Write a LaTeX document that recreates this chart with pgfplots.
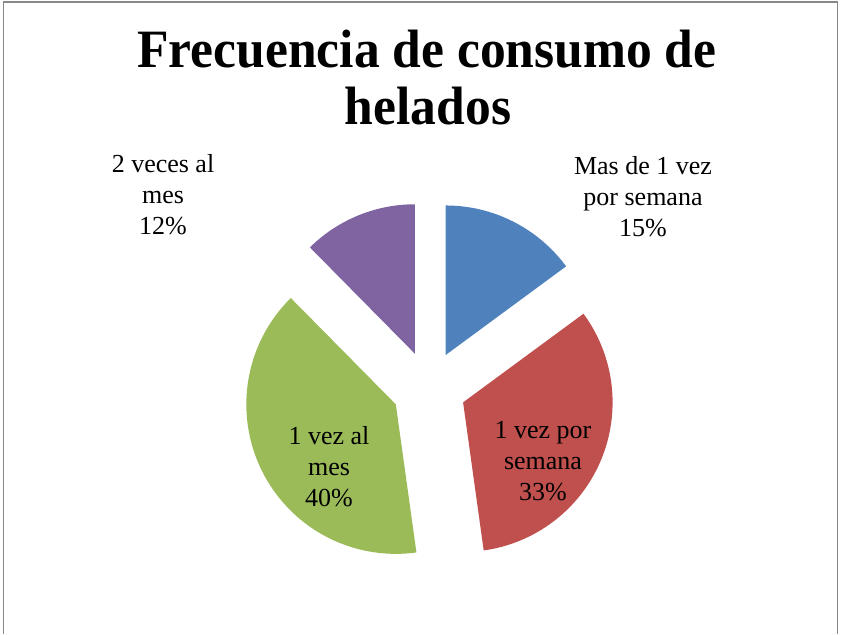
\documentclass[border=0pt]{standalone}
\usepackage{pgfplots}
\usepackage{pgfplotstable}
\pgfplotsset{compat=1.18}
\usepackage{fontspec}
\setmainfont{Liberation Serif}
\definecolor{cA}{HTML}{4F81BD}
\definecolor{cB}{HTML}{C0504D}
\definecolor{cC}{HTML}{9BBB59}
\definecolor{cD}{HTML}{8064A2}
\definecolor{frame}{HTML}{888888}
\pgfplotstableread{
idx value
0 14.9
1 32.9
2 39.8
3 12.4
}\piedata
\newcommand\pct[1]{\pgfmathprintnumber[fixed,precision=0,assume math mode=true]{#1}\%}
\begin{document}
\begin{tikzpicture}
\pgfplotstablegetelem{0}{value}\of\piedata \let\vA\pgfplotsretval
\pgfplotstablegetelem{1}{value}\of\piedata \let\vB\pgfplotsretval
\pgfplotstablegetelem{2}{value}\of\piedata \let\vC\pgfplotsretval
\pgfplotstablegetelem{3}{value}\of\piedata \let\vD\pgfplotsretval
\def\cx{429}\def\cy{246}\def\rr{149.5}\def\dd{37}
\pgfmathsetmacro\tot{\vA+\vB+\vC+\vD}
% start / end angles (clockwise from top)
\pgfmathsetmacro\sA{90}
\pgfmathsetmacro\eA{90-360*\vA/\tot}
\pgfmathsetmacro\eB{\eA-360*\vB/\tot}
\pgfmathsetmacro\eC{\eB-360*\vC/\tot}
\pgfmathsetmacro\eD{\eC-360*\vD/\tot}
\pgfmathsetmacro\xA{\cx+\dd*cos((\sA+\eA)/2)}\pgfmathsetmacro\yA{\cy+\dd*sin((\sA+\eA)/2)}
\pgfmathsetmacro\xB{\cx+\dd*cos((\eA+\eB)/2)}\pgfmathsetmacro\yB{\cy+\dd*sin((\eA+\eB)/2)}
\pgfmathsetmacro\xC{\cx+\dd*cos((\eB+\eC)/2)}\pgfmathsetmacro\yC{\cy+\dd*sin((\eB+\eC)/2)}
\pgfmathsetmacro\xD{\cx+\dd*cos((\eC+\eD)/2)}\pgfmathsetmacro\yD{\cy+\dd*sin((\eC+\eD)/2)}
\begin{axis}[x=1pt,y=1pt,xmin=0,xmax=841,ymin=0,ymax=634,hide axis,clip=false]
\path (axis cs:0,0) rectangle (axis cs:841,634);
\draw[frame,line width=1.3pt] (axis cs:3.5,0) -- (axis cs:3.5,632) -- (axis cs:837.5,632) -- (axis cs:837.5,0);
\addplot[fill=cA,draw=none,domain=\eA:\sA,samples=80,variable=\t] ({\xA+\rr*cos(\t)},{\yA+\rr*sin(\t)}) -- (axis cs:\xA,\yA) -- cycle;
\addplot[fill=cB,draw=none,domain=\eB:\eA,samples=80,variable=\t] ({\xB+\rr*cos(\t)},{\yB+\rr*sin(\t)}) -- (axis cs:\xB,\yB) -- cycle;
\addplot[fill=cC,draw=none,domain=\eC:\eB,samples=80,variable=\t] ({\xC+\rr*cos(\t)},{\yC+\rr*sin(\t)}) -- (axis cs:\xC,\yC) -- cycle;
\addplot[fill=cD,draw=none,domain=\eD:\eC,samples=80,variable=\t] ({\xD+\rr*cos(\t)},{\yD+\rr*sin(\t)}) -- (axis cs:\xD,\yD) -- cycle;
\node[font=\fontsize{54}{57}\selectfont\bfseries,anchor=base,inner sep=0pt] at (axis cs:427,566) {\scalebox{0.955}[1]{Frecuencia de consumo de}};
\node[font=\fontsize{54}{57}\selectfont\bfseries,anchor=base,inner sep=0pt] at (axis cs:428,509) {\scalebox{0.955}[1]{helados}};
\node[align=center,font=\fontsize{26}{31}\selectfont] at (axis cs:643,437) {Mas de 1 vez\\por semana\\\pct{\vA}};
\node[align=center,font=\fontsize{26}{31}\selectfont] at (axis cs:543,173) {1 vez por\\semana\\\pct{\vB}};
\node[align=center,font=\fontsize{26}{31}\selectfont] at (axis cs:329,167) {1 vez al\\mes\\\pct{\vC}};
\node[align=center,font=\fontsize{26}{31}\selectfont] at (axis cs:163,439) {2 veces al\\mes\\\pct{\vD}};
\end{axis}
\end{tikzpicture}
\end{document}
